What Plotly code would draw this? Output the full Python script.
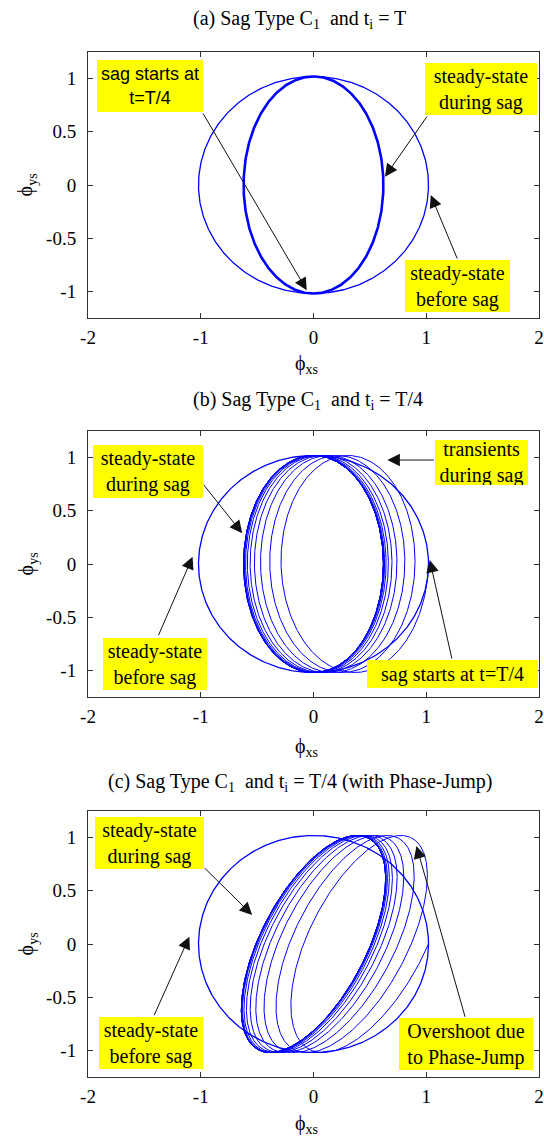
import numpy as np
import plotly.graph_objects as go

# ---------------- data ----------------
panel_titles = [
    "(a) Sag Type C<sub>1</sub>  and t<sub>i</sub> = T",
    "(b) Sag Type C<sub>1</sub>  and t<sub>i</sub> = T/4",
    "(c) Sag Type C<sub>1</sub>  and t<sub>i</sub> = T/4 (with Phase-Jump)",
]
x_ticks = [-2, -1, 0, 1, 2]
x_tick_text = ["-2", "-1", "0", "1", "2"]
y_ticks = [-1, -0.5, 0, 0.5, 1]
y_tick_text = ["-1", "-0.5", "0", "0.5", "1"]

# stator flux circle before the sag (p.u. radius)
pre_sag_radius = [1.02, 1.02, 1.02]
# angle of the flux vector when the sag starts (deg)
sag_start_deg = [-90, 0, 0]
# steady-state flux ellipse during the sag: x / y semi-axes
sag_axis_x = [0.62, 0.62, 0.64]
sag_axis_y = [1.02, 1.02, 1.02]
# phase between x and y flux components (90 = upright ellipse) and phase jump
ellipse_skew_deg = [90, 90, 53]
ellipse_phase_deg = [0, 0, -37]
# remaining share of the natural (dc) flux at every half cycle after the sag
natural_decay = [1.0, 0.83, 0.70, 0.58, 0.475, 0.375, 0.30, 0.24, 0.19, 0.145,
                 0.11, 0.083, 0.06, 0.043, 0.028, 0.018, 0.01, 0.005, 0.0]
# half cycles drawn after the sag
post_sag_half_cycles = [2, 26, 26]

# annotation boxes: text, centre (x, y), size (w, h), arrow tail, arrow tip
labels = [
    [("sag starts at<br>t=T/4", (-1.454, 0.93), (106, 52), (-0.987, 0.686), (-0.06, -0.99), "sans"),
     ("steady-state<br>during sag", (1.489, 0.902), (112, 52), (1.016, 0.658), (0.634, 0.078), "serif"),
     ("steady-state<br>before sag", (1.28, -0.949), (105, 52), (1.28, -0.705), (1.04, -0.094), "serif")],
    [("steady-state<br>during sag", (-1.469, 0.865), (110, 53), (-0.984, 0.758), (-0.632, 0.289), "serif"),
     ("steady-state<br>before sag", (-1.407, -0.938), (104, 52), (-1.38, -0.683), (-1.072, 0.069), "serif"),
     ("transients<br>during sag", (1.489, 0.954), (93, 45), (1.081, 0.977), (0.655, 0.977), "serif"),
     ("sag starts at t=T/4", (1.233, -1.036), (171, 28), (1.23, -0.902), (1.031, 0.038), "serif")],
    [("steady-state<br>during sag", (-1.458, 0.951), (109, 52), (-0.978, 0.727), (-0.544, 0.273), "serif"),
     ("steady-state<br>before sag", (-1.443, -0.932), (104, 52), (-1.419, -0.683), (-1.101, 0.069), "serif"),
     ("Overshoot due<br>to Phase-Jump", (1.351, -0.942), (134, 52), (1.348, -0.698), (0.913, 0.921), "serif")],
]

# ---------------- layout geometry (pixels) ----------------
W, H = 544, 1140
LEFT, RIGHT = 88, 542
panel_top = [52, 431, 811]
panel_bottom = [318, 697, 1077]
title_y = [19, 400, 782]
title_x = [-0.12, -0.05, -0.12]
xlabel_y = [364, 747, 1124]

SERIF = "Liberation Serif, Times New Roman, serif"
SANS = "Liberation Sans, Arial, sans-serif"
BLUE = "#0000ff"


def flux_path(i):
    """Pre-sag circle followed by the post-sag trajectory (clockwise rotation)."""
    r = pre_sag_radius[i]
    th0 = np.deg2rad(sag_start_deg[i])
    pre = np.linspace(th0 + 2 * np.pi, th0, 500)
    px, py = r * np.cos(pre), r * np.sin(pre)

    ax_, ay_ = sag_axis_x[i], sag_axis_y[i]
    d = np.deg2rad(ellipse_skew_deg[i])
    a = np.deg2rad(ellipse_phase_deg[i])

    def forced(th):
        return ax_ * np.cos(th + a), ay_ * np.cos(th + a - d)

    fx0, fy0 = forced(th0)
    dcx, dcy = r * np.cos(th0) - fx0, r * np.sin(th0) - fy0
    n = post_sag_half_cycles[i]
    elapsed = np.linspace(0, n * np.pi, n * 200 + 1)
    th = th0 - elapsed
    k = np.interp(elapsed, np.arange(len(natural_decay)) * np.pi, natural_decay)
    fx, fy = forced(th)
    return px, py, fx + dcx * k, fy + dcy * k


fig = go.Figure()
layout = dict(
    width=W, height=H,
    margin=dict(l=LEFT, r=W - RIGHT, t=0, b=0),
    paper_bgcolor="white", plot_bgcolor="white",
    showlegend=False,
    annotations=[],
)

for i in range(3):
    sx = "" if i == 0 else str(i + 1)
    xa, ya = "x" + sx, "y" + sx
    px, py, qx, qy = flux_path(i)
    fig.add_trace(go.Scatter(x=px, y=py, mode="lines", xaxis=xa, yaxis=ya,
                             line=dict(color=BLUE, width=1.3), hoverinfo="skip"))
    fig.add_trace(go.Scatter(x=qx, y=qy, mode="lines", xaxis=xa, yaxis=ya,
                             line=dict(color=BLUE, width=2.6 if i == 0 else 1.0),
                             hoverinfo="skip"))

    axis_style = dict(showline=True, linecolor="#303030", linewidth=1, mirror="ticks",
                      ticks="inside", ticklen=5, tickcolor="#303030",
                      showgrid=False, zeroline=False, ticklabeloverflow="allow",
                      tickfont=dict(family=SERIF, size=19, color="black"))
    layout["xaxis" + sx] = dict(axis_style, range=[-2, 2], tickvals=x_ticks,
                                ticktext=x_tick_text, anchor=ya, domain=[0, 1],
                                ticklabelstandoff=2)
    layout["yaxis" + sx] = dict(axis_style, range=[-1.25, 1.25], tickvals=y_ticks,
                                ticktext=y_tick_text, anchor=xa,
                                domain=[1 - panel_bottom[i] / H, 1 - panel_top[i] / H],
                                ticklabelstandoff=7)

    # panel title
    layout["annotations"].append(dict(
        text=panel_titles[i], x=title_x[i], y=1 - title_y[i] / H, xref=xa, yref="paper",
        showarrow=False, xanchor="center", yanchor="middle",
        font=dict(family=SERIF, size=20, color="black")))
    # axis labels
    layout["annotations"].append(dict(
        text="\u03d5<sub>xs</sub>", x=-0.06, y=1 - xlabel_y[i] / H, xref=xa, yref="paper",
        showarrow=False, xanchor="center", yanchor="middle",
        font=dict(family=SERIF, size=20, color="black")))
    layout["annotations"].append(dict(
        text="\u03d5<sub>ys</sub>", x=(27 - LEFT) / (RIGHT - LEFT),
        y=1 - (panel_top[i] + panel_bottom[i]) / 2 / H, xref="paper", yref="paper",
        showarrow=False, xanchor="center", yanchor="middle", textangle=-90,
        font=dict(family=SERIF, size=20, color="black")))

    # callouts
    for text, (cx, cy), (bw, bh), (tx, ty), (hx, hy), fam in labels[i]:
        layout["annotations"].append(dict(
            x=hx, y=hy, ax=tx, ay=ty, xref=xa, yref=ya, axref=xa, ayref=ya,
            text="", showarrow=True, arrowhead=2, arrowsize=2.5, arrowwidth=1,
            arrowcolor="#111111", standoff=0, startstandoff=0))
        layout["annotations"].append(dict(
            text=text, x=cx, y=cy, xref=xa, yref=ya, showarrow=False,
            xanchor="center", yanchor="middle", align="center", valign="middle",
            width=bw, height=bh,
            bgcolor="#ffff00", borderpad=0, borderwidth=0,
            font=dict(family=SANS if fam == "sans" else SERIF,
                      size=18 if fam == "sans" else 20, color="black")))

fig.update_layout(**layout)
fig.write_html("out.html")
